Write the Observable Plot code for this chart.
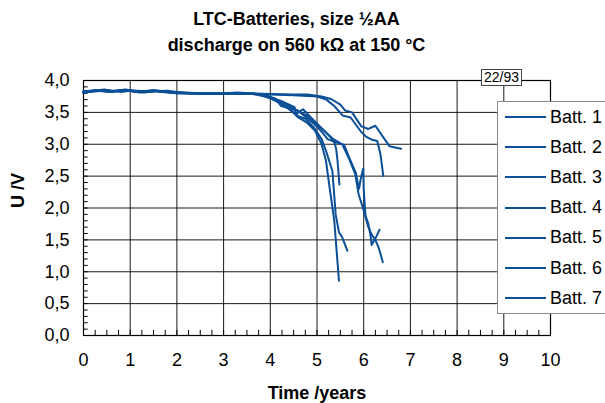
<!DOCTYPE html>
<html><head><meta charset="utf-8">
<script src="https://cdn.jsdelivr.net/npm/d3@7"></script>
<script src="https://cdn.jsdelivr.net/npm/@observablehq/plot@0.6"></script>
<style>
html,body{margin:0;padding:0;background:#fff;}
#wrap{position:relative;width:605px;height:403px;overflow:hidden;font-family:"Liberation Sans",Arial,Helvetica,sans-serif;color:#000;}
#title{height:60px;box-sizing:border-box;padding-top:6px;text-align:center;font-weight:bold;font-size:18px;line-height:26px;padding-right:12px;}
#stamp{position:absolute;left:481px;top:69px;width:41px;height:17px;box-sizing:border-box;border:1px solid #444;background:#fff;font-size:14px;line-height:15px;text-align:center;}
#legend{position:absolute;left:497px;top:101px;width:130px;height:213px;box-sizing:border-box;border:1px solid #888;background:#fff;}
.item{position:absolute;left:0;height:20px;display:flex;align-items:center;font-size:18px;white-space:nowrap;}
.item .sw{width:41px;height:2px;margin-left:7px;margin-right:4px;}
</style></head>
<body>
<div id="wrap">
  <div id="title">LTC-Batteries, size ½AA<br>discharge on 560 kΩ at 150 °C</div>
  <div id="chart"></div>
  <div id="stamp">22/93</div>
  <div id="legend"></div>
</div>
<script>
const batteryNames = ["Batt. 1","Batt. 2","Batt. 3","Batt. 4","Batt. 5","Batt. 6","Batt. 7"];
const batt1 = [[0,3.82],[0.2,3.84],[0.45,3.86],[0.6,3.83],[0.9,3.86],[1.2,3.82],[1.5,3.85],[1.7,3.82],[2.0,3.81],[2.5,3.80],[3.0,3.80],[3.5,3.80],[4.0,3.79],[4.5,3.78],[4.8,3.78],[5.1,3.75],[5.3,3.71],[5.5,3.62],[5.6,3.53],[5.75,3.50],[5.95,3.28],[6.1,3.24],[6.25,3.29],[6.55,2.97],[6.8,2.93]];
const batt2 = [[0,3.81],[0.3,3.83],[0.5,3.85],[0.8,3.82],[1.0,3.84],[1.3,3.81],[1.6,3.84],[2.0,3.80],[2.5,3.79],[3.0,3.80],[3.6,3.79],[4.0,3.78],[4.5,3.77],[5.0,3.75],[5.2,3.70],[5.37,3.60],[5.55,3.45],[5.72,3.42],[5.94,3.20],[6.05,3.12],[6.18,3.07],[6.29,3.05],[6.36,2.84],[6.42,2.50]];
const batt3 = [[0,3.83],[0.25,3.84],[0.5,3.83],[0.9,3.85],[1.1,3.82],[1.4,3.83],[1.8,3.84],[2.2,3.80],[2.8,3.79],[3.3,3.81],[3.7,3.79],[4.0,3.74],[4.23,3.68],[4.52,3.58],[4.55,3.47],[4.7,3.55],[4.87,3.42],[5.01,3.32],[5.16,3.21],[5.3,3.10],[5.37,3.03],[5.41,2.93],[5.44,2.74],[5.48,2.37]];
const batt4 = [[0,3.82],[0.3,3.85],[0.6,3.82],[0.9,3.85],[1.3,3.83],[1.6,3.84],[2.0,3.81],[2.6,3.80],[3.1,3.80],[3.6,3.79],[3.9,3.75],[4.2,3.66],[4.4,3.56],[4.6,3.42],[4.8,3.33],[4.95,3.22],[5.09,3.02],[5.19,2.75],[5.27,2.32],[5.37,1.80],[5.47,0.86]];
const batt5 = [[0,3.83],[0.35,3.85],[0.7,3.83],[1.0,3.84],[1.2,3.81],[1.5,3.83],[2.0,3.80],[2.4,3.80],[3.0,3.79],[3.4,3.80],[3.7,3.79],[4.0,3.72],[4.25,3.63],[4.5,3.50],[4.6,3.44],[4.75,3.40],[4.94,3.26],[5.1,3.08],[5.2,2.88],[5.33,2.58],[5.4,1.90],[5.47,1.62],[5.54,1.54],[5.65,1.33]];
const batt6 = [[0,3.82],[0.4,3.85],[0.65,3.83],[0.95,3.85],[1.25,3.82],[1.55,3.84],[1.9,3.81],[2.5,3.80],[3.0,3.80],[3.5,3.79],[3.8,3.79],[4.1,3.72],[4.23,3.60],[4.59,3.53],[4.77,3.42],[4.94,3.32],[5.12,3.18],[5.23,3.08],[5.4,3.03],[5.58,2.99],[5.69,2.79],[5.83,2.55],[5.9,2.30],[5.94,2.47],[5.99,2.62],[6.0,2.30],[6.04,1.85],[6.1,1.70],[6.18,1.57],[6.25,1.50],[6.32,1.38],[6.41,1.15]];
const batt7 = [[0,3.81],[0.3,3.84],[0.55,3.82],[0.85,3.85],[1.15,3.83],[1.45,3.84],[1.8,3.82],[2.3,3.80],[2.9,3.80],[3.4,3.80],[3.8,3.79],[4.2,3.68],[4.5,3.56],[4.8,3.44],[5.15,3.21],[5.35,3.08],[5.54,3.00],[5.7,2.75],[5.82,2.53],[5.89,2.22],[6.0,1.96],[6.1,1.75],[6.15,1.55],[6.17,1.42],[6.25,1.52],[6.34,1.66]];
const batteries = [batt1,batt2,batt3,batt4,batt5,batt6,batt7];
const xTicks = [0,1,2,3,4,5,6,7,8,9,10];
const yTicks = [0,0.5,1,1.5,2,2.5,3,3.5,4];
const xMinor = d3.range(0, 10.001, 0.25);
const yMinor = d3.range(0, 4.001, 0.1);
const lineColor = "#0b4f97";

const rows = batteries.flatMap((b, i) => b.map(([t, v]) => ({batt: batteryNames[i], t, v})));

const chart = Plot.plot({
  width: 605,
  height: 343,
  marginTop: 20,
  marginBottom: 68,
  marginLeft: 83,
  marginRight: 55,
  style: {fontFamily: '"Liberation Sans", Arial, Helvetica, sans-serif', fontSize: "18px", color: "#000", background: "#fff", overflow: "visible"},
  x: {domain: [0, 10]},
  y: {domain: [0, 4]},
  marks: [
    Plot.gridX(xTicks, {stroke: "#000", strokeOpacity: 0.9, strokeWidth: 1}),
    Plot.gridY(yTicks, {stroke: "#000", strokeOpacity: 0.9, strokeWidth: 1}),
    Plot.ruleX(xMinor, {x: d => d, y1: 0, y2: 0.08, stroke: "#000", strokeWidth: 1}),
    Plot.ruleY(yMinor, {y: d => d, x1: 0, x2: 0.1, stroke: "#000", strokeWidth: 1}),
    Plot.frame({stroke: "#000", strokeWidth: 1.2}),
    Plot.line(rows, {x: "t", y: "v", z: "batt", stroke: lineColor, strokeWidth: 2, strokeLinejoin: "round"}),
    Plot.axisX(xTicks, {tickSize: 0, tickPadding: 18, tickFormat: d => String(d), label: null}),
    Plot.axisY(yTicks, {tickSize: 0, tickPadding: 14, tickFormat: d => d.toFixed(1).replace(".", ","), label: null}),
    Plot.text(["Time /years"], {text: d => d, frameAnchor: "bottom", dy: 58, fontWeight: "bold", fontSize: 18, lineAnchor: "middle"}),
    Plot.text(["U /V"], {text: d => d, frameAnchor: "left", dx: -65, rotate: -90, fontWeight: "bold", fontSize: 18, lineAnchor: "middle"})
  ]
});
document.getElementById("chart").appendChild(chart);

const legend = document.getElementById("legend");
batteryNames.forEach((name, i) => {
  const item = document.createElement("div");
  item.className = "item";
  item.style.top = (117 + 30.2 * i - 10 - 102) + "px";
  const sw = document.createElement("span");
  sw.className = "sw";
  sw.style.background = lineColor;
  const label = document.createElement("span");
  label.textContent = name;
  item.appendChild(sw);
  item.appendChild(label);
  legend.appendChild(item);
});
</script>
</body></html>
